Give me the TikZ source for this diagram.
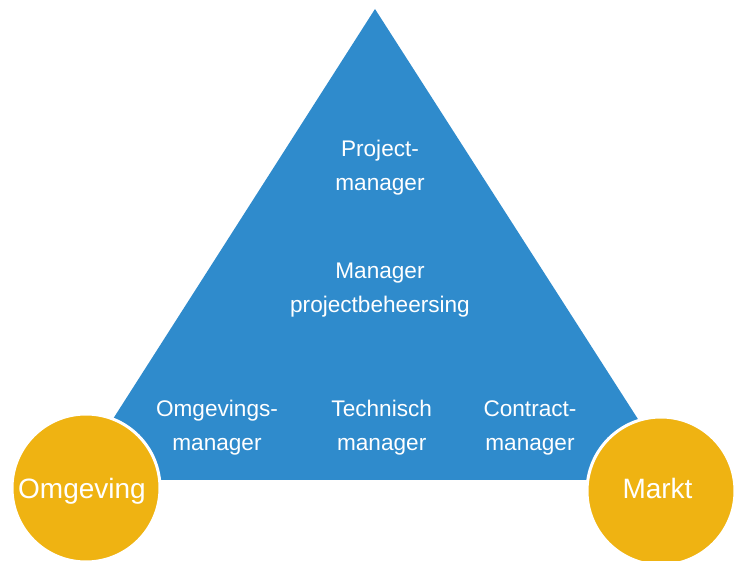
\documentclass[tikz,border=0pt]{standalone}
\usepackage{fontspec}
\setmainfont{Liberation Sans}
\definecolor{triblue}{RGB}{47,139,204}
\definecolor{ringgold}{RGB}{239,179,18}
\tikzset{
  lbl/.style={text=white, inner sep=0pt, align=center, font=\fontsize{22.6}{34}\selectfont},
  circ/.style={circle, fill=ringgold, draw=white, line width=3pt, minimum size=148pt, inner sep=0pt},
  circlbl/.style={text=white, inner sep=0pt, anchor=base, font=\fontsize{28}{34}\selectfont}
}
\begin{document}
\begin{tikzpicture}[x=1pt,y=-1pt]
\useasboundingbox (0,0) rectangle (737,561);
\coordinate (apex) at (375,9);
\coordinate (bl) at (74,480);
\coordinate (br) at (677,480);
\fill[triblue] (apex) -- (bl) -- (br) -- cycle;
\node[circ] (omg) at (86,488) {};
\node[circ] (mkt) at (661,491) {};
\node[circlbl] (omgt) at (82,498) {Omgeving};
\node[circlbl] (mktt) at (657.5,498) {Markt};
\node[lbl] (pm) at (380,167.3) {Project-\\manager};
\node[lbl] (mpb) at (380,290.3) {Manager\\projectbeheersing};
\node[lbl] (om) at (217,427.6) {Omgevings-\\manager};
\node[lbl] (tm) at (381.7,427.6) {Technisch\\manager};
\node[lbl] (cm) at (530,427.6) {Contract-\\manager};
\end{tikzpicture}
\end{document}
